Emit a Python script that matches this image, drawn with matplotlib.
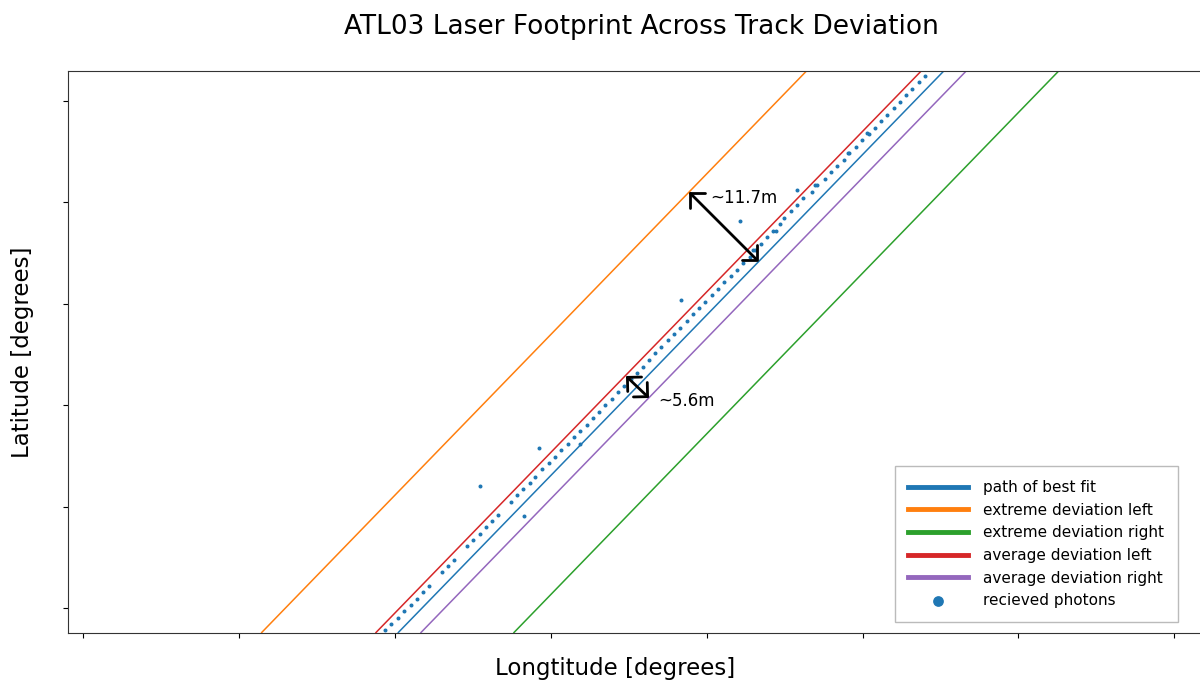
import matplotlib
matplotlib.use("Agg")
import matplotlib.pyplot as plt
import numpy as np

# relative lon/lat (arbitrary units, tick labels were hidden in the original)
track_lat = [-24.5, 536.5]
best_fit_lon = [315.3, 860.3]
extreme_left_lon = [178.7, 723.0]
extreme_right_lon = [431.0, 975.2]
avg_left_lon = [293.0, 837.7]
avg_right_lon = [338.0, 882.7]

photon_lon = [
    302.0, 308.3, 314.7, 321.3, 327.7, 333.7, 340.0, 346.0, 359.0, 365.3,
    371.3, 383.7, 389.7, 396.7, 402.7, 409.0, 415.3, 428.0, 434.0, 440.0,
    446.5, 452.3, 459.3, 466.0, 471.7, 478.0, 484.7, 491.0, 497.0, 503.7,
    509.7, 515.7, 522.0, 528.7, 535.3, 541.3, 548.0, 553.7, 559.7, 566.0,
    572.3, 578.3, 584.7, 591.0, 597.3, 603.7, 609.7, 616.0, 622.3, 628.7,
    635.0, 641.3, 647.7, 653.7, 660.0, 666.7, 672.3, 678.0, 684.0, 690.3,
    697.3, 701.3, 707.7, 714.0, 720.3, 728.7, 734.3, 741.7, 747.7, 754.3,
    760.7, 766.3, 773.3, 779.3, 786.0, 792.0, 798.3, 804.3, 810.7, 817.0,
    823.3, 829.3, 835.7, 842.0,
    692.5, 670.0, 732.2, 784.0, 764.5,
    396.7, 441.0, 455.5, 497.0, 598.3, 657.0, 713.7,
]
photon_lat = [
    -22.0, -16.0, -9.7, -3.0, 3.0, 9.3, 16.3, 22.3, 35.7, 41.7,
    48.3, 61.7, 67.7, 74.0, 80.7, 86.7, 93.3, 106.0, 113.0, 119.0,
    125.3, 131.3, 139.0, 145.3, 151.3, 158.0, 164.3, 170.7, 176.7, 183.0,
    189.7, 196.3, 203.0, 209.0, 216.0, 222.3, 228.7, 235.3, 241.3, 248.0,
    254.7, 261.3, 267.7, 274.0, 280.3, 287.0, 293.7, 300.0, 306.3, 312.7,
    319.0, 326.0, 332.0, 338.3, 345.3, 351.3, 358.0, 364.3, 370.7, 377.3,
    383.7, 390.3, 397.0, 403.3, 409.7, 416.3, 422.7, 429.0, 435.7, 442.0,
    448.3, 454.7, 461.0, 467.7, 474.3, 480.3, 487.0, 493.3, 499.7, 506.3,
    513.0, 519.3, 525.7, 532.0,
    377.2, 358.2, 422.6, 474.5, 454.5,
    122.5, 91.7, 160.0, 164.0, 308.3, 386.7, 417.7,
]

# deviation markers: start lon, start lat, end lon, end lat
big_arrow = [606, 416, 675, 347]
small_arrow = [543, 232, 566, 210]
big_label = "~11.7m"
small_label = "~5.6m"

line_labels = ["path of best fit", "extreme deviation left", "extreme deviation right",
               "average deviation left", "average deviation right"]
line_colors = ["#1f77b4", "#ff7f0e", "#2ca02c", "#d62728", "#9467bd"]


def main():
    fig = plt.figure(figsize=(12, 6.82), dpi=100)
    ax = fig.add_axes([68 / 1200, 49.5 / 682, 1146 / 1200, 561 / 682])

    lines = [best_fit_lon, extreme_left_lon, extreme_right_lon, avg_left_lon, avg_right_lon]
    for lon, label, color in zip(lines, line_labels, line_colors):
        ax.plot(lon, track_lat, color=color, lw=1.1, label=label)

    ax.scatter(photon_lon, photon_lat, s=3.5, color="#1f77b4", label="recieved photons", zorder=3)

    # arrows with open square heads
    for arr in (big_arrow, small_arrow):
        ax.annotate("", xy=(arr[2], arr[3]), xytext=(arr[0], arr[1]),
                    arrowprops=dict(arrowstyle="<->,head_length=0.4,head_width=0.4", lw=2,
                                    color="black", mutation_scale=18, shrinkA=0, shrinkB=0))
    ax.text(627, 410, big_label, fontsize=12, va="center", ha="left")
    ax.text(575, 207, small_label, fontsize=12, va="center", ha="left")

    ax.set_xlim(-15, 1131)
    ax.set_ylim(-24.5, 536.5)
    ax.set_xticks(np.arange(0, 1131, 155.9))
    ax.set_yticks(np.arange(0, 536, 101.4))
    ax.set_xticklabels([])
    ax.set_yticklabels([])
    for s in ax.spines.values():
        s.set_color("#333333")

    ax.set_title("ATL03 Laser Footprint Across Track Deviation", fontsize=19, pad=27)
    ax.set_xlabel("Longtitude [degrees]", fontsize=16.5)
    ax.set_ylabel("Latitude [degrees]", fontsize=16.5)
    ax.xaxis.set_label_coords(0.477, -0.044)
    ax.yaxis.set_label_coords(-0.030, 0.5)

    leg = ax.legend(loc="lower right", bbox_to_anchor=(0.9686, 0.0187), borderaxespad=0,
                    fontsize=11, handlelength=3.9, handletextpad=1.0, borderpad=0.9,
                    fancybox=False, edgecolor="#bbbbbb", framealpha=1)
    for h in leg.legend_handles[:5]:
        h.set_linewidth(3.5)
    leg.legend_handles[5].set_sizes([45])

    fig.savefig("out.png", dpi=100)
    plt.close(fig)


if __name__ == "__main__":
    main()
